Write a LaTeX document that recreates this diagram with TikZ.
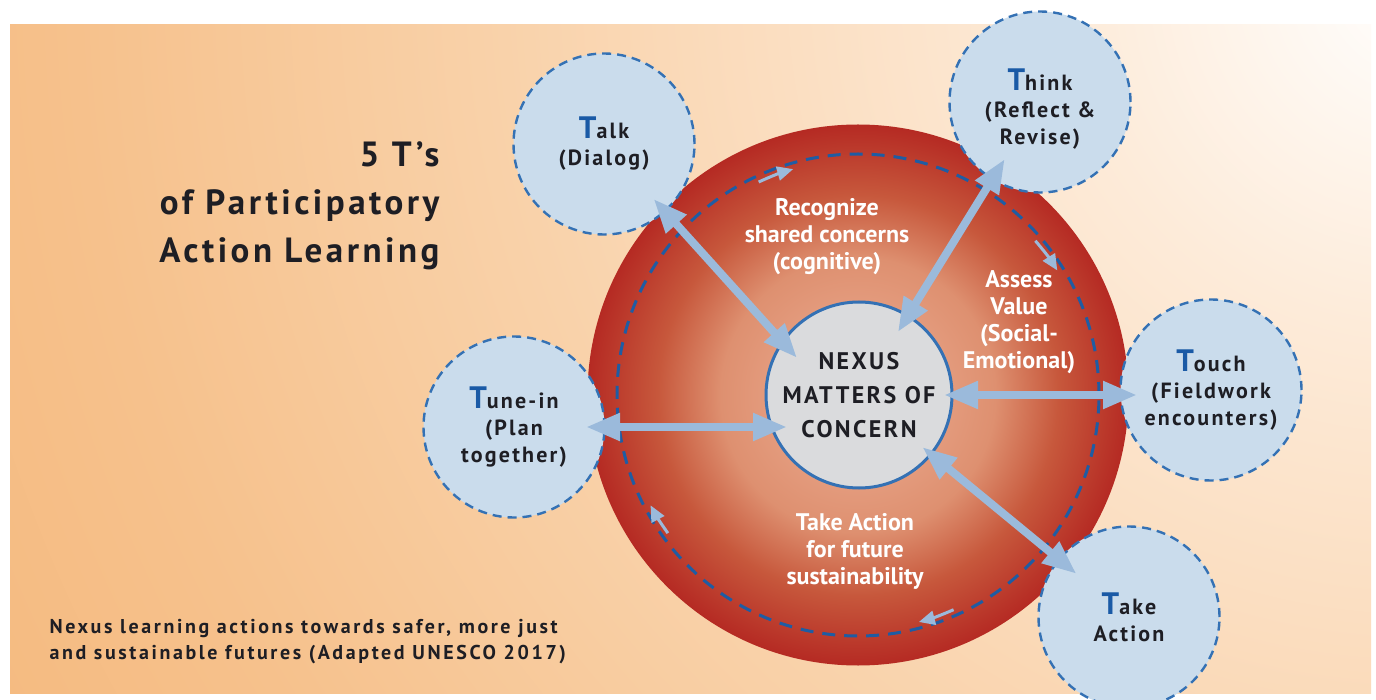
\documentclass[tikz,border=0pt]{standalone}
\usepackage{fontspec}
\setmainfont{PT Sans}
\newfontfamily\trackfont{PT Sans}[LetterSpace=10]
\newfontfamily\notefont{PT Sans}[LetterSpace=13]
\usetikzlibrary{arrows.meta}

\definecolor{ringblue}{HTML}{1F5CA3}
\definecolor{circfill}{HTML}{CADCEC}
\definecolor{circedge}{HTML}{3471B4}
\definecolor{arrowblue}{HTML}{9BBADB}
\definecolor{tblue}{HTML}{1A5AA6}
\definecolor{nexusgray}{HTML}{DADBDD}
\definecolor{textdark}{HTML}{1E1E24}

% red disc glow (the disc radius is about 35.4bp of the shading)
\pgfdeclareradialshading{redglow}{\pgfpointorigin}{%
  color(0bp)=(rgb,255:red,238;green,176;blue,150);
  color(12.7bp)=(rgb,255:red,222;green,144;blue,112);
  color(18.5bp)=(rgb,255:red,199;green,88;blue,60);
  color(25bp)=(rgb,255:red,181;green,42;blue,35);
  color(29.5bp)=(rgb,255:red,170;green,14;blue,26);
  color(35.4bp)=(rgb,255:red,166;green,11;blue,23);
  color(50bp)=(rgb,255:red,166;green,11;blue,23)}

% background glow from the top right corner
\pgfdeclareradialshading{bgglow}{\pgfpointorigin}{%
  color(0bp)=(rgb,255:red,255;green,255;blue,255);
  color(5bp)=(rgb,255:red,253;green,235;blue,217);
  color(13.1bp)=(rgb,255:red,249;green,210;blue,170);
  color(19.2bp)=(rgb,255:red,246;green,193;blue,140);
  color(27.3bp)=(rgb,255:red,244;green,179;blue,114);
  color(34.3bp)=(rgb,255:red,242;green,169;blue,94);
  color(50bp)=(rgb,255:red,242;green,169;blue,94)}

\newcommand{\bigT}{{\fontsize{31}{31}\selectfont\color{tblue}T}}

\begin{document}
\begin{tikzpicture}[x=1pt, y=-1pt,
    tcircle/.style = {circle, draw=circedge, fill=circfill, line width=2.4pt,
        dash pattern=on 9pt off 6pt, minimum size=181pt, inner sep=0pt,
        align=center, text=textdark,
        font=\trackfont\bfseries\fontsize{22}{27}\selectfont},
    ringlabel/.style = {align=center, text=white,
        font=\bfseries\fontsize{24}{27}\selectfont},
    bigarrow/.style = {arrowblue, line width=8pt,
        {Triangle[length=34pt,width=26pt]}-{Triangle[length=34pt,width=26pt]}},
    flowarrow/.style = {arrowblue, line width=3pt,
        -{Triangle[length=16pt,width=14pt]}}]

\useasboundingbox (0,0) rectangle (1376,700);

% background
\fill[white] (0,0) rectangle (1376,700);
\begin{scope}
  \clip (10,25) rectangle (1371,693);
  \shade[shading=bgglow] (1420,-20) circle (1750pt);
\end{scope}

% red disc and dashed cycle
\node[circle, shade, shading=redglow, minimum size=541pt, inner sep=0pt] (disc) at (858,395) {};
\node[circle, draw=ringblue, line width=3pt, dash pattern=on 13pt off 9pt,
      minimum size=482pt, inner sep=0pt] (ring) at (858,395) {};

% direction of the cycle
\draw[flowarrow] (ring.center) ++(-115:235) arc[start angle=-115, end angle=-106, radius=235];
\draw[flowarrow] (ring.center) ++(-41:235) arc[start angle=-41, end angle=-32, radius=235];
\draw[flowarrow] (ring.center) ++(66:235) arc[start angle=66, end angle=75, radius=235];
\draw[flowarrow] (ring.center) ++(144:235) arc[start angle=144, end angle=152, radius=235];

% stages on the ring
\node[ringlabel] (recog) at (827,237) {Recognize\\shared concerns\\(cognitive)};
\node[ringlabel] (assess) at (1019,322) {Assess\\Value\\(Social-\\Emotional)};
\node[ringlabel] (act) at (855,551) {Take Action\\for future\\sustainability};

% centre
\node[circle, draw=circedge, fill=nexusgray, line width=3pt, minimum size=186pt,
      inner sep=0pt, align=center, text=textdark,
      font=\trackfont\bfseries\fontsize{24}{34}\selectfont] (nexus) at (859,395)
      {NEXUS\\MATTERS OF\\CONCERN};

% the five T's
\node[tcircle] (talk)  at (604,144)  {\bigT alk\\(Dialog)};
\node[tcircle, text height=90pt] (think) at (1040,102) {\bigT hink\\(Reflect \&\\Revise)};
\node[tcircle] (touch) at (1211,390) {\bigT ouch\\(Fieldwork\\encounters)};
\node[tcircle] (take)  at (1129,617) {\bigT ake\\Action};
\node[tcircle] (tune)  at (514,427)  {\bigT une-in\\(Plan\\together)};

% links to the centre
\draw[bigarrow, shorten <=74pt, shorten >=-23pt] (talk.center) -- (nexus.145);
\draw[bigarrow, shorten <=67pt, shorten >=74pt] (think.center) -- (nexus.center);
\draw[bigarrow, shorten <=85pt, shorten >=74pt] (nexus.center) -- (nexus.center -| touch.center);
\draw[bigarrow, shorten <=68pt, shorten >=82pt] (take.center) -- (nexus.center);
\draw[bigarrow, shorten <=72pt, shorten >=72pt] (tune.center) -- (tune.center -| nexus.center);

% title and note
\node[anchor=north east, align=right, text=textdark,
      font=\trackfont\bfseries\fontsize{35}{48}\selectfont] (title) at (443,138)
      {5 T’s\\of Participatory\\Action Learning};
\node[anchor=north west, align=left, text=textdark,
      font=\notefont\bfseries\fontsize{20}{26}\selectfont] (note) at (46,616)
      {Nexus learning actions towards safer, more just\\and sustainable futures (Adapted UNESCO 2017)};

\end{tikzpicture}
\end{document}
